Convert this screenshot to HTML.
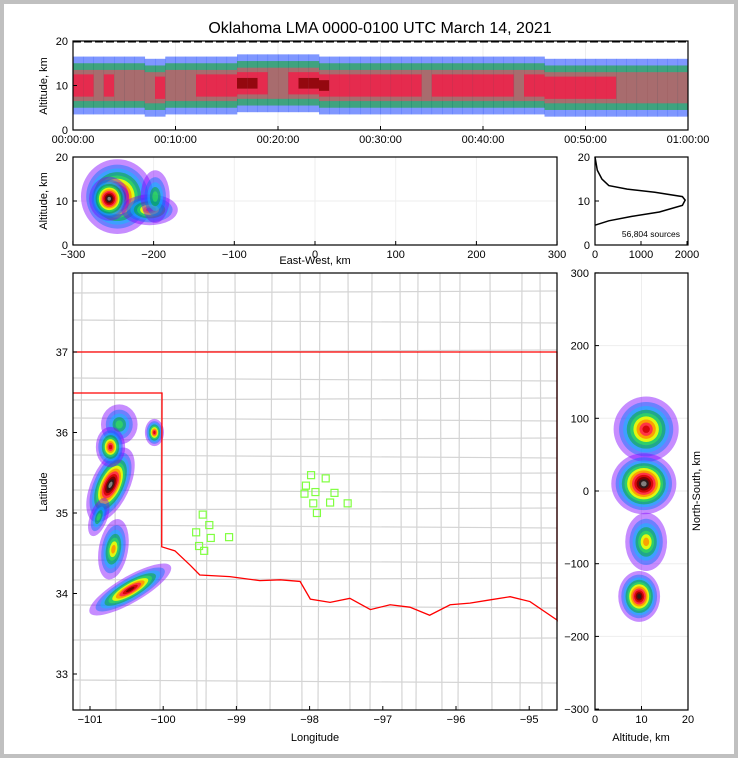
<!DOCTYPE html>
<html><head><meta charset="utf-8"><style>
html,body{margin:0;padding:0;background:#fff}
svg{display:block;font-family:"Liberation Sans","DejaVu Sans",sans-serif}
</style></head><body>
<svg id="c" width="738" height="758" viewBox="0 0 738 758">
<rect x="0" y="0" width="738" height="758" fill="#c0c0c0"/>
<rect x="4" y="4" width="730" height="750" fill="#fff"/>
<text x="380" y="33" font-size="16" text-anchor="middle">Oklahoma LMA 0000-0100 UTC March 14, 2021</text>
<g id="g"></g>
</svg>
<script>
// ---------- data ----------
const timeLabels=["00:00:00","00:10:00","00:20:00","00:30:00","00:40:00","00:50:00","01:00:00"];
const timeIntensity=[3,3,2,3,2,2,2,2,3,2,2,2,3,3,3,3,4,4,3,2,2,3,4,4,4,3,3,3,3,3,3,3,3,3,2,3,3,3,3,3,3,3,3,2,3,3,3,3,3,3,3,3,3,2,2,2,2,2,2,2];
const timeMid=[10,10,10,10,10,10,10,9.5,9.5,10,10,10,10,10,10,10,10.5,10.5,10.5,10.5,10.5,10.5,10.5,10.5,10,10,10,10,10,10,10,10,10,10,10,10,10,10,10,10,10,10,10,10,10,10,9.5,9.5,9.5,9.5,9.5,9.5,9.5,9.5,9.5,9.5,9.5,9.5,9.5,9.5];
const ewTicks=[-300,-200,-100,0,100,200,300];
const altTicks=[0,10,20];
const histCounts=[0,300,800,1400,1900,1960,1900,1300,700,300,150,50,0];
const histAlts=[4.5,5.5,6.5,7.5,9,10.2,11,12,12.7,13.5,15,17,20];
const histTicks=[0,1000,2000];
const lonTicks=[-101,-100,-99,-98,-97,-96,-95];
const latTicks=[37,36,35,34,33];
const nsTicks=[300,200,100,0,-100,-200,-300];
const alt2Ticks=[0,10,20];
// EW panel clusters [ewKm, altKm, rxKm, rzKm, levels]
const ewClusters=[[-245,11,45,8.5,11],[-205,8,35,3.5,8],[-198,11,18,6,5],[-255,10.5,25,5,12]];
// map clusters [lon, lat, rxDeg, ryDeg, rotationDeg, levels]
const mapClusters=[[-100.6,36.1,0.25,0.25,0,5],[-100.72,35.35,0.26,0.5,25,12],[-100.72,35.82,0.2,0.25,0,9],[-100.12,36.0,0.13,0.17,0,9],[-100.68,34.55,0.2,0.38,10,7],[-100.45,34.05,0.18,0.58,60,10],[-100.88,34.95,0.12,0.25,20,5]];
// NS panel clusters [altKm, nsKm, rxKm, ryKm, levels]
const nsClusters=[[11,85,7,45,9],[11,-70,4.5,40,7],[9.5,-145,4.5,35,11],[10.5,10,7,42,12]];
const stationLon=[-99.46,-99.37,-99.55,-99.35,-99.51,-99.44,-99.10,-97.98,-97.78,-98.05,-97.92,-98.07,-97.66,-97.95,-97.72,-97.48,-97.9];
const stationLat=[34.98,34.85,34.76,34.69,34.59,34.53,34.70,35.47,35.43,35.34,35.26,35.24,35.25,35.12,35.13,35.12,35.0];
const riverLon=[-100.02,-99.84,-99.63,-99.50,-99.09,-98.68,-98.40,-98.13,-97.99,-97.72,-97.45,-97.17,-96.90,-96.63,-96.36,-96.08,-95.81,-95.54,-95.26,-94.99,-94.62];
const riverLat=[34.58,34.53,34.35,34.23,34.21,34.16,34.17,34.15,33.93,33.89,33.94,33.8,33.86,33.83,33.73,33.86,33.88,33.92,33.96,33.9,33.67];

const colors=['#8000ff','#0070ff','#00c8ff','#00b000','#40ff40','#ffff00','#ff9000','#ff2050','#d00000','#700000','#202020','#909090','#e8e8e8'];
const g=document.getElementById('g');
const NS='http://www.w3.org/2000/svg';
function el(t,a,p){const e=document.createElementNS(NS,t);for(const k in a)e.setAttribute(k,a[k]);(p||g).appendChild(e);return e;}
function txt(x,y,s,anchor,size,p){const e=el('text',{x:x,y:y,'font-size':size||11,'text-anchor':anchor||'middle'},p);e.textContent=s;return e;}
function blob(p,cx,cy,rx,ry,rot,levels,name){
  const grp=el('g',{transform:`rotate(${rot} ${cx} ${cy})`},p);
  
  
  for(let i=0;i<levels;i++){
    const f=1-Math.pow(i/(levels+0.3),0.8);
    el('ellipse',{cx:cx,cy:cy,rx:rx*f,ry:ry*f,fill:colors[i],opacity:i<5?0.45:0.85},grp);
  }
}
function frame(x0,y0,x1,y1,name){
  const r=el('rect',{x:x0,y:y0,width:x1-x0,height:y1-y0,fill:'none',stroke:'#000','stroke-width':1.2});
  
  
}

// ---------- Panel 1: time-height ----------
const p1=el('g',{});


const bw=615/timeIntensity.length;
const tx=i=>73+i*bw;
const ty=a=>130-a*4.45;
for(let k=1;k<6;k++)el('line',{x1:73+k*102.5,x2:73+k*102.5,y1:41,y2:130,stroke:'#eee'},p1);
const bandW=[[6.5,'#0030ff',0.5],[5,'#00b000',0.5],[3.5,'#ff4060',0.55],[2.5,'#ff1040',0.7],[1.2,'#800000',0.8]];
timeIntensity.forEach((v,i)=>{
  for(let j=0;j<bandW.length;j++){
    if(j>v)break;
    const h=bandW[j][0];
    const r=el('rect',{x:tx(i),y:ty(timeMid[i]+h),width:bw+0.3,height:ty(timeMid[i]-h)-ty(timeMid[i]+h),fill:bandW[j][1],opacity:bandW[j][2]},p1);
    
    
  }
});
el('line',{x1:73,x2:688,y1:42,y2:42,stroke:'#000','stroke-dasharray':'8 3'},p1);
frame(73,41,688,130,'time-height-frame');
timeLabels.forEach((s,i)=>{const x=73+i*102.5;el('line',{x1:x,x2:x,y1:130,y2:126,stroke:'#000'},p1);txt(x,143,s,'middle',11,p1);});
altTicks.forEach(a=>{el('line',{x1:73,x2:77,y1:ty(a),y2:ty(a),stroke:'#000'},p1);txt(68,ty(a)+4,String(a),'end',11,p1);});
const yl1=txt(0,0,'Altitude, km','middle',11,p1);yl1.setAttribute('transform','translate(47,86) rotate(-90)');

// ---------- Panel 2: EW-height ----------
const p2=el('g',{});


const ex=k=>315+k*0.807;
const ez=a=>245-a*4.4;
ewTicks.forEach(k=>el('line',{x1:ex(k),x2:ex(k),y1:157,y2:245,stroke:'#eee'},p2));
el('line',{x1:73,x2:557,y1:ez(10),y2:ez(10),stroke:'#eee'},p2);
const clip2=el('clipPath',{id:'c2'},p2);el('rect',{x:73,y:157,width:484,height:88},clip2);
const p2c=el('g',{'clip-path':'url(#c2)'},p2);
ewClusters.forEach((c,i)=>blob(p2c,ex(c[0]),ez(c[1]),c[2]*0.807,c[3]*4.4,0,c[4],'ew-cluster-'+i));
frame(73,157,557,245,'ew-frame');
ewTicks.forEach(k=>{el('line',{x1:ex(k),x2:ex(k),y1:245,y2:241,stroke:'#000'},p2);txt(ex(k),258,k<0?'\u2212'+(-k):String(k),'middle',11,p2);});
altTicks.forEach(a=>{el('line',{x1:73,x2:77,y1:ez(a),y2:ez(a),stroke:'#000'},p2);txt(68,ez(a)+4,String(a),'end',11,p2);});
txt(315,264,'East-West, km','middle',11,p2);
const yl2=txt(0,0,'Altitude, km','middle',11,p2);yl2.setAttribute('transform','translate(47,201) rotate(-90)');

// ---------- Panel 3: histogram ----------
const p3=el('g',{});


const hx=c=>595+c*0.046;
const hz=a=>245-a*4.4;
el('polyline',{points:histCounts.map((c,i)=>hx(c)+','+hz(histAlts[i])).join(' '),fill:'none',stroke:'#000','stroke-width':1.5},p3);
frame(595,157,688,245,'histogram-frame');
histTicks.forEach(c=>{el('line',{x1:hx(c),x2:hx(c),y1:245,y2:241,stroke:'#000'},p3);txt(hx(c),258,String(c),'middle',11,p3);});
altTicks.forEach(a=>{el('line',{x1:595,x2:599,y1:hz(a),y2:hz(a),stroke:'#000'},p3);txt(590,hz(a)+4,String(a),'end',11,p3);});
txt(680,237,'56,804 sources','end',8.5,p3);

// ---------- Panel 4: map ----------
const p4=el('g',{});


const mx=lon=>90+(lon+101)*73.2;
const my=lat=>352+(37-lat)*80.5;
const cl=el('g',{stroke:'#d4d4d4','stroke-width':1.2,fill:'none'},p4);


const vx=[82,114,162,195,208,235,272,300,320,348,372,400,418,440,460,490,522,540];
vx.forEach((x,i)=>el('line',{x1:x,x2:x+(i%2?2:-2),y1:273,y2:710},cl));
const hy=[293,320,352,378,400,418,440,455,475,490,510,525,545,560,580,605,640,680];
hy.forEach((y,i)=>el('line',{x1:73,x2:557,y1:y,y2:y+(i%2?3:-2)},cl));
const clip4=el('clipPath',{id:'c4'},p4);el('rect',{x:73,y:273,width:484,height:437},clip4);
const p4c=el('g',{'clip-path':'url(#c4)'},p4);
mapClusters.forEach((c,i)=>blob(p4c,mx(c[0]),my(c[1]),c[2]*73.2,c[3]*80.5,c[4],c[5],'storm-cluster-'+i));
const ok=el('polyline',{points:`73,393 162,393 `+riverLon.map((l,i)=>mx(l)+','+my(riverLat[i])).join(' ')+` 557,620 557,352 73,352`,fill:'none',stroke:'#f00','stroke-width':1.3},p4);


stationLon.forEach((l,i)=>{const r=el('rect',{x:mx(l)-3.5,y:my(stationLat[i])-3.5,width:7,height:7,fill:'none',stroke:'#80ff40','stroke-width':1.2},p4);
  
  });
frame(73,273,557,710,'map-frame');
lonTicks.forEach(l=>{el('line',{x1:mx(l),x2:mx(l),y1:710,y2:706,stroke:'#000'},p4);txt(mx(l),723,'\u2212'+(-l),'middle',11,p4);});
latTicks.forEach(l=>{el('line',{x1:73,x2:77,y1:my(l),y2:my(l),stroke:'#000'},p4);txt(68,my(l)+4,String(l),'end',11,p4);});
txt(315,741,'Longitude','middle',11,p4);
const yl4=txt(0,0,'Latitude','middle',11,p4);yl4.setAttribute('transform','translate(47,492) rotate(-90)');

// ---------- Panel 5: NS-altitude ----------
const p5=el('g',{});


const nx=a=>595+a*4.65;
const ny=k=>491-k*0.727;
el('line',{x1:nx(10),x2:nx(10),y1:273,y2:710,stroke:'#eee'},p5);
nsTicks.forEach(k=>el('line',{x1:595,x2:688,y1:ny(k),y2:ny(k),stroke:'#eee'},p5));
nsClusters.forEach((c,i)=>blob(p5,nx(c[0]),ny(c[1]),c[2]*4.65,c[3]*0.727,0,c[4],'ns-cluster-'+i));
frame(595,273,688,710,'ns-frame');
nsTicks.forEach(k=>{el('line',{x1:595,x2:599,y1:ny(k),y2:ny(k),stroke:'#000'},p5);txt(589,ny(k)+4,k<0?'\u2212'+(-k):String(k),'end',11,p5);});
alt2Ticks.forEach(a=>{el('line',{x1:nx(a),x2:nx(a),y1:710,y2:706,stroke:'#000'},p5);txt(nx(a),723,String(a),'middle',11,p5);});
txt(641,741,'Altitude, km','middle',11,p5);
const yl5=txt(0,0,'North-South, km','middle',11,p5);yl5.setAttribute('transform','translate(700,491) rotate(-90)');
</script>
</body></html>
